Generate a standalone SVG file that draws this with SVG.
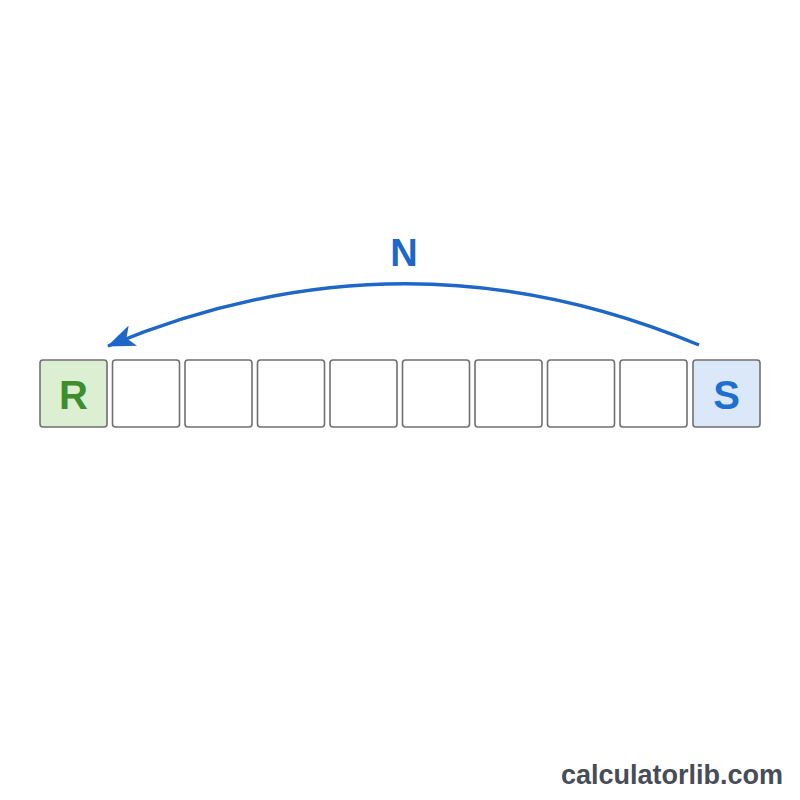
<svg xmlns="http://www.w3.org/2000/svg" width="800" height="800" viewBox="0 0 800 800">
<defs>
<style>
.cell{fill:#ffffff;stroke:#707070;stroke-width:1.6}
.lbl{font-family:"Liberation Sans",Arial,sans-serif;font-weight:bold;text-anchor:middle}
</style>
<marker id="ah2" markerWidth="28" markerHeight="22" refX="27" refY="11" orient="auto" markerUnits="userSpaceOnUse" viewBox="0 0 28 22">
<path d="M0,0 L28,11 L0,22 L7,11 Z" fill="#1e66c8"/>
</marker>
</defs>
<rect width="800" height="800" fill="#ffffff"/>
<g id="connectors">
<path d="M699,345 Q405,222 108,346" fill="none" stroke="#1e66c8" stroke-width="3.4" marker-end="url(#ah2)"/>
<text class="lbl" x="404" y="266" font-size="38" fill="#1e66c8">N</text>
</g>
<g id="node-R">
<rect x="40" y="360" width="67" height="67" rx="3" class="cell" style="fill:#dcefd3"/>
<text class="lbl" x="73.5" y="409" font-size="40" fill="#3e8e2e">R</text>
</g>
<g id="cell-2"><rect x="112.5" y="360" width="67" height="67" rx="3" class="cell"/></g>
<g id="cell-3"><rect x="185" y="360" width="67" height="67" rx="3" class="cell"/></g>
<g id="cell-4"><rect x="257.5" y="360" width="67" height="67" rx="3" class="cell"/></g>
<g id="cell-5"><rect x="330" y="360" width="67" height="67" rx="3" class="cell"/></g>
<g id="cell-6"><rect x="402.5" y="360" width="67" height="67" rx="3" class="cell"/></g>
<g id="cell-7"><rect x="475" y="360" width="67" height="67" rx="3" class="cell"/></g>
<g id="cell-8"><rect x="547.5" y="360" width="67" height="67" rx="3" class="cell"/></g>
<g id="cell-9"><rect x="620" y="360" width="67" height="67" rx="3" class="cell"/></g>
<g id="node-S">
<rect x="693" y="360" width="67" height="67" rx="3" class="cell" style="fill:#dbe8fa"/>
<text class="lbl" x="726.5" y="409" font-size="40" fill="#1e6fd0">S</text>
</g>
<text x="783" y="784" font-family="'Liberation Sans',Arial,sans-serif" font-weight="bold" font-size="27" fill="#474c57" text-anchor="end">calculatorlib.com</text>
</svg>
